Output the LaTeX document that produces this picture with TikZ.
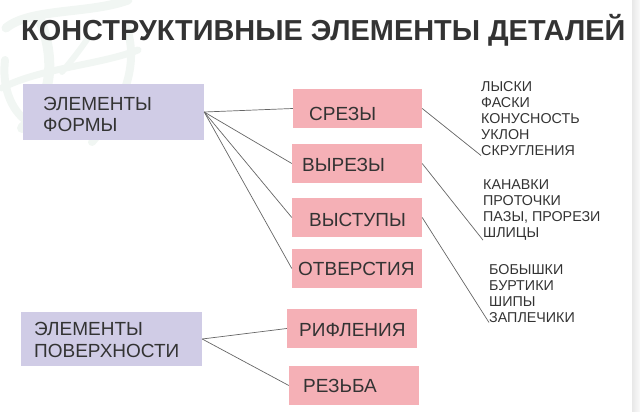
\documentclass[tikz,border=0pt]{standalone}
\usepackage{fontspec}
\setmainfont{Liberation Sans}
\definecolor{lilac}{HTML}{D0CCE6}
\definecolor{rosy}{HTML}{F5B0B6}
\definecolor{ink}{HTML}{333333}
\definecolor{pale}{HTML}{F1F6F3}
\tikzset{
	kind/.style={fill=lilac, inner sep=0pt},
	part/.style={fill=rosy, inner sep=0pt},
	boxtext/.style={text=ink, anchor=west, inner sep=0pt, align=left, font=\fontsize{19}{21.5}\selectfont},
	listtext/.style={text=ink, anchor=north west, inner sep=0pt, align=left, font=\fontsize{14.3}{16}\selectfont},
	link/.style={draw=black!60, line width=0.7pt},
	swash/.style={draw=pale, line cap=round}
}
\begin{document}
\begin{tikzpicture}[x=1pt, y=-1pt]
	\useasboundingbox (0,0) rectangle (640,412);
	% watermark
	\draw[swash, line width=9pt] (6,28) .. controls (30,8) and (90,14) .. (128,0);
	\draw[swash, line width=10pt] (40,20) .. controls (52,50) and (58,95) .. (22,128);
	\draw[swash, line width=8pt] (5,60) .. controls (2,85) and (10,110) .. (28,122);
	\draw[swash, line width=7pt] (2,88) .. controls (40,68) and (100,65) .. (138,50);
	\draw[swash, line width=8pt] (127,28) .. controls (140,70) and (120,110) .. (92,142);
	\draw[swash, line width=6pt] (62,72) .. controls (72,60) and (80,50) .. (88,38);
	\shade[left color=black!9, right color=black!2] (632,0) rectangle (640,412);
	\node[text=ink, anchor=west, inner sep=0pt, font=\fontsize{28.9}{32}\bfseries\selectfont] (title) at (21,30) {КОНСТРУКТИВНЫЕ ЭЛЕМЕНТЫ ДЕТАЛЕЙ};
	% left column
	\node[kind, minimum width=181pt, minimum height=56pt] (form) at (113.5,112) {};
	\node[boxtext] (formtext) at (43,114.5) {ЭЛЕМЕНТЫ\\ФОРМЫ};
	\node[kind, minimum width=181pt, minimum height=54pt] (surf) at (111.5,339) {};
	\node[boxtext] (surftext) at (34,340) {ЭЛЕМЕНТЫ\\ПОВЕРХНОСТИ};
	% middle column
	\node[part, minimum width=129pt, minimum height=39pt] (cut) at (357.5,108.5) {};
	\node[part, minimum width=130pt, minimum height=39pt] (notch) at (357,163.5) {};
	\node[part, minimum width=130pt, minimum height=39pt] (ledge) at (357,217.5) {};
	\node[part, minimum width=130pt, minimum height=39pt] (hole) at (357,268.5) {};
	\node[part, minimum width=130pt, minimum height=39pt] (ribs) at (352,328.5) {};
	\node[part, minimum width=130pt, minimum height=39pt] (thread) at (354,385.5) {};
	\node[boxtext] (cuttext) at (309,114) {СРЕЗЫ};
	\node[boxtext] (notchtext) at (302,165) {ВЫРЕЗЫ};
	\node[boxtext] (ledgetext) at (309,219.5) {ВЫСТУПЫ};
	\node[boxtext] (holetext) at (298,269) {ОТВЕРСТИЯ};
	\node[boxtext] (ribstext) at (299,329.5) {РИФЛЕНИЯ};
	\node[boxtext] (threadtext) at (303,385.5) {РЕЗЬБА};
	% lists
	\node[listtext] (cutlist) at (481,81) {ЛЫСКИ\\ФАСКИ\\КОНУСНОСТЬ\\УКЛОН\\СКРУГЛЕНИЯ};
	\node[listtext] (notchlist) at (483,179) {КАНАВКИ\\ПРОТОЧКИ\\ПАЗЫ, ПРОРЕЗИ\\ШЛИЦЫ};
	\node[listtext] (ledgelist) at (489,264) {БОБЫШКИ\\БУРТИКИ\\ШИПЫ\\ЗАПЛЕЧИКИ};
	% links
	\foreach \a in {cut,notch,ledge,hole}
		\draw[link] (form.east) -- (\a.west);
	\foreach \a in {ribs,thread}
		\draw[link] (surf.east) -- (\a.west);
	\draw[link] (cut.east) -- (cutlist.south west);
	\draw[link] (notch.east) -- (notchlist.south west);
	\draw[link] (ledge.east) -- (ledgelist.south west);
\end{tikzpicture}
\end{document}
